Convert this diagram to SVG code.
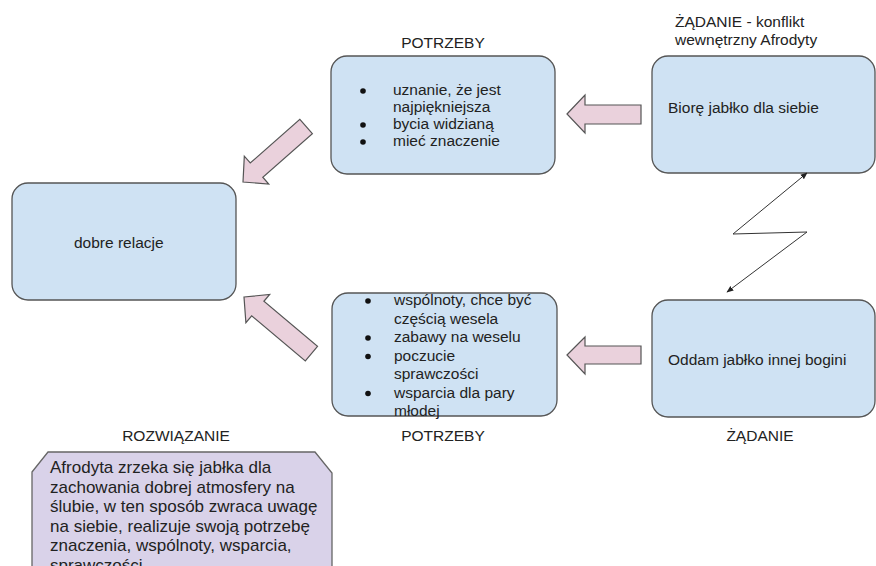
<svg xmlns="http://www.w3.org/2000/svg" width="876" height="566" viewBox="0 0 876 566">
<style>
.box{fill:#cfe2f3;stroke:#555;stroke-width:1.3}
.sol{fill:#d9d2e9;stroke:#666;stroke-width:1.3}
.pa{fill:#ead1dc;stroke:#555;stroke-width:1.2}
.t{font-family:"Liberation Sans",Arial,sans-serif;font-size:15.5px;fill:#222}
.ts{font-family:"Liberation Sans",Arial,sans-serif;font-size:17px;fill:#222}
.b{fill:#111}
.z{fill:none;stroke:#333;stroke-width:1}
</style>
<defs>
<marker id="ah" viewBox="0 0 10 10" refX="9" refY="5" markerWidth="7" markerHeight="7" orient="auto-start-reverse" markerUnits="userSpaceOnUse">
<path d="M0,1 L10,5 L0,9 Z" fill="#222"/>
</marker>
</defs>
<rect width="876" height="566" fill="#fff"/>

<g id="labels">
<text class="t" x="443" y="48" text-anchor="middle">POTRZEBY</text>
<text class="t" x="675" y="27">ŻĄDANIE - konflikt</text>
<text class="t" x="675" y="45">wewnętrzny Afrodyty</text>
<text class="t" x="443" y="441" text-anchor="middle">POTRZEBY</text>
<text class="t" x="760" y="441" text-anchor="middle">ŻĄDANIE</text>
<text class="t" x="176" y="441" text-anchor="middle">ROZWIĄZANIE</text>
</g>

<g id="needs-top">
<rect class="box" x="331" y="56" width="224" height="118" rx="16"/>
<circle class="b" cx="363" cy="91" r="2.8"/>
<circle class="b" cx="363" cy="125" r="2.8"/>
<circle class="b" cx="363" cy="142" r="2.8"/>
<text class="t" x="393" y="95">uznanie, że jest</text>
<text class="t" x="393" y="112">najpiękniejsza</text>
<text class="t" x="393" y="129">bycia widzianą</text>
<text class="t" x="393" y="146">mieć znaczenie</text>
</g>

<g id="demand-top">
<rect class="box" x="652" y="56" width="223" height="117" rx="16"/>
<text class="t" x="668" y="113">Biorę jabłko dla siebie</text>
</g>

<g id="good-relations">
<rect class="box" x="12" y="183" width="224" height="117" rx="16"/>
<text class="t" x="74" y="248">dobre relacje</text>
</g>

<g id="needs-bottom">
<rect class="box" x="332" y="293" width="225" height="123" rx="16"/>
<circle class="b" cx="368" cy="301" r="2.8"/>
<circle class="b" cx="368" cy="338" r="2.8"/>
<circle class="b" cx="368" cy="356.5" r="2.8"/>
<circle class="b" cx="368" cy="393.5" r="2.8"/>
<text class="t" x="394" y="305">wspólnoty, chce być</text>
<text class="t" x="394" y="323.5">częścią wesela</text>
<text class="t" x="394" y="342">zabawy na weselu</text>
<text class="t" x="394" y="360.5">poczucie</text>
<text class="t" x="394" y="379">sprawczości</text>
<text class="t" x="394" y="397.5">wsparcia dla pary</text>
<text class="t" x="394" y="416">młodej</text>
</g>

<g id="demand-bottom">
<rect class="box" x="652" y="300" width="223" height="117" rx="16"/>
<text class="t" x="668" y="365">Oddam jabłko innej bogini</text>
</g>

<g id="solution">
<path class="sol" d="M32,472 L48,452 L315,452 L332,473 L332,580 L32,580 Z"/>
<text class="ts" x="50" y="473">Afrodyta zrzeka się jabłka dla</text>
<text class="ts" x="50" y="492.5">zachowania dobrej atmosfery na</text>
<text class="ts" x="50" y="512">ślubie, w ten sposób zwraca uwagę</text>
<text class="ts" x="50" y="531.5">na siebie, realizuje swoją potrzebę</text>
<text class="ts" x="50" y="551">znaczenia, wspólnoty, wsparcia,</text>
<text class="ts" x="50" y="570.5">sprawczości</text>
</g>

<g id="connectors">
<path class="pa" d="M567,114 L585,95 L585,105 L641,105 L641,124 L585,124 L585,133 Z"/>
<path class="pa" d="M567,355 L585,337 L585,346 L641,346 L641,364 L585,364 L585,374 Z"/>
<path class="pa" transform="translate(243,182) rotate(-41.3)" d="M0,0 L18,-18.5 L18,-9.5 L84,-9.5 L84,9.5 L18,9.5 L18,18.5 Z"/>
<path class="pa" transform="translate(244,297) rotate(40)" d="M0,0 L18,-18.5 L18,-9.5 L88,-9.5 L88,9.5 L18,9.5 L18,18.5 Z"/>
<polyline class="z" points="807,173 733,234 807,232 727,292" marker-start="url(#ah)" marker-end="url(#ah)"/>
</g>
</svg>
